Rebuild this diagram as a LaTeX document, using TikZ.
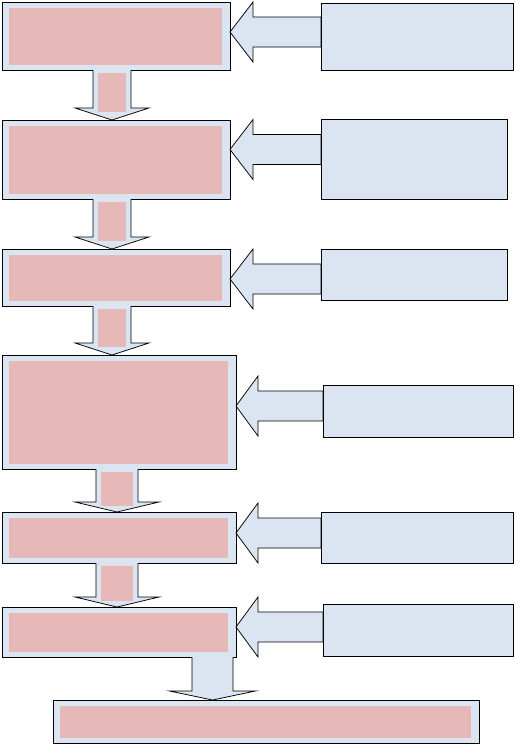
\documentclass[tikz,border=0pt]{standalone}
\usepackage{tikz}
\usetikzlibrary{calc}

\definecolor{boxblue}{RGB}{219,229,241}
\definecolor{boxpink}{RGB}{230,185,184}

\begin{document}
\begin{tikzpicture}[x=1pt, y=-1pt,
  stepbox/.style={draw, fill=boxblue, line width=0.75pt, inner sep=0pt, outer sep=0pt},
  barrow/.style={draw, fill=boxblue, line width=0.75pt, line join=miter}]
\useasboundingbox (0,0) rectangle (514,744);

% left column (process boxes)
\foreach \i/\x/\y/\w/\h in {1/116/36/228/68, 2/116/159.5/228/79, 3/116/277.5/228/57,
    4/119/412/234/114, 5/119/537.5/234/51, 6/119/632/234/50, 7/266/721.5/426/43} {
  \node[stepbox, minimum width=\w pt, minimum height=\h pt] (lb\i) at (\x,\y) {};
  \fill[boxpink] ($(lb\i.north west)+(7,6)$) rectangle ($(lb\i.south east)+(-8,-5)$);
}

% down arrows
\foreach \i/\j/\dx/\s/\h/\l in {1/2/-4/19/37/12, 2/3/-4/19/37/12, 3/4/-4/19/37/12,
    4/5/-2/21/42/10, 5/6/-2/21/42/10} {
  \coordinate (a) at ($(lb\i.south)+(\dx,0)$);
  \coordinate (b) at (a |- lb\j.north);
  \path[barrow] ($(a)+(-\s,0)$) -- ($(b)+(-\s,-\l)$) -- ($(b)+(-\h,-\l)$) -- (b)
    -- ($(b)+(\h,-\l)$) -- ($(b)+(\s,-\l)$) -- ($(a)+(\s,0)$);
  \fill[boxpink] ($(a)+(-\s+5,3)$) rectangle ($(b)+(\s-5,-\l+4)$);
}
\coordinate (a) at ($(lb6.south)+(93.5,0)$);
\coordinate (b) at (a |- lb7.north);
\path[barrow] ($(a)+(-20.5,0)$) -- ($(b)+(-20.5,-9)$) -- ($(b)+(-43,-9)$) -- (b)
  -- ($(b)+(43,-9)$) -- ($(b)+(20.5,-9)$) -- ($(a)+(20.5,0)$);

% right column (input boxes)
\foreach \i/\x/\y/\w/\h in {1/417/36.5/192/67, 2/414/159/186/80, 3/414/274.5/186/51,
    4/418/411/190/52, 5/417/537.5/192/51, 6/418/630/190/52} {
  \node[minimum width=\w pt, minimum height=\h pt, inner sep=0pt, outer sep=0pt] (rb\i) at (\x,\y) {};
}

% left arrows
\foreach \i/\dy/\l in {1/-4/23, 2/-10/23, 3/1.5/23, 4/-6/22, 5/-4.5/22, 6/-5/22} {
  \coordinate (t) at ($(lb\i.east)+(0,\dy)$);
  \coordinate (e) at (t -| rb\i.west);
  \path[barrow] (t) -- ++(\l,-30) -- ++(0,15) -- ($(e)+(0,-15)$) -- ($(e)+(0,15)$)
    -- ($(t)+(\l,15)$) -- ++(0,15) -- cycle;
}
\foreach \i in {1,...,6}
  \path[stepbox] (rb\i.north west) rectangle (rb\i.south east);
\end{tikzpicture}
\end{document}
